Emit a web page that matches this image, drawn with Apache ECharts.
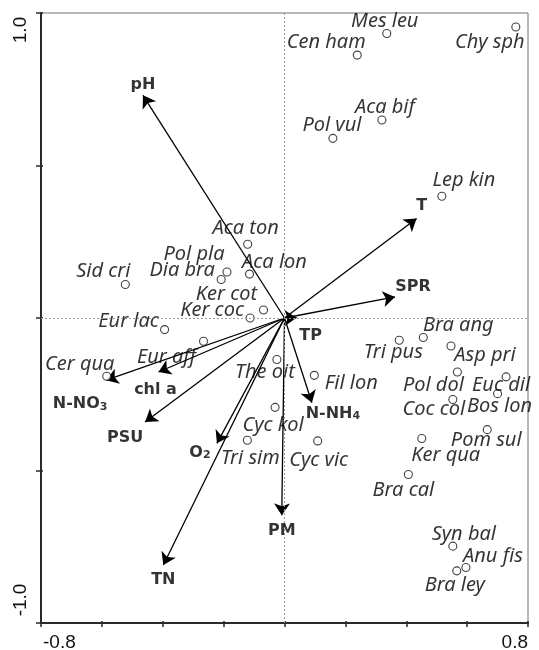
<!DOCTYPE html>
<html>
<head>
<meta charset="utf-8">
<script src="https://cdn.jsdelivr.net/npm/echarts@6/dist/echarts.min.js"></script>
<style>
  html, body { margin: 0; padding: 0; background: #ffffff; }
  #chart { width: 539px; height: 650px; }
</style>
</head>
<body>
<div id="chart"></div>
<script>
// Species scores (CCA axis 1 / axis 2)
const speciesNames = [
  'Mes leu', 'Cen ham', 'Chy sph', 'Aca bif', 'Pol vul', 'Lep kin',
  'Aca ton', 'Aca lon', 'Pol pla', 'Dia bra', 'Ker cot', 'Ker coc',
  'Eur lac', 'Sid cri', 'Eur aff', 'Cer qua', 'The oit', 'Fil lon',
  'Cyc kol', 'Tri sim', 'Cyc vic', 'Tri pus', 'Bra ang', 'Asp pri',
  'Pol dol', 'Euc dil', 'Bos lon', 'Coc col', 'Pom sul', 'Ker qua',
  'Bra cal', 'Syn bal', 'Anu fis', 'Bra ley'
];
const speciesX = [
  0.336, 0.239, 0.760, 0.320, 0.159, 0.517,
  -0.121, -0.115, -0.189, -0.208, -0.069, -0.113,
  -0.394, -0.523, -0.266, -0.584, -0.025, 0.098,
  -0.031, -0.122, 0.109, 0.377, 0.456, 0.547,
  0.568, 0.728, 0.700, 0.553, 0.666, 0.451,
  0.407, 0.553, 0.596, 0.566
];
const speciesY = [
  0.933, 0.862, 0.954, 0.649, 0.589, 0.399,
  0.242, 0.144, 0.151, 0.126, 0.026, 0.000,
  -0.038, 0.110, -0.076, -0.191, -0.136, -0.188,
  -0.293, -0.401, -0.403, -0.073, -0.064, -0.092,
  -0.177, -0.193, -0.248, -0.267, -0.366, -0.395,
  -0.513, -0.748, -0.818, -0.829
];

// Environmental variable vectors
const envNames = ['pH', 'T', 'SPR', 'TP', 'N-NH4', 'PM', 'TN', 'O2', 'PSU', 'chl a', 'N-NO3'];
const envX = [-0.465, 0.434, 0.363, 0.040, 0.090, -0.009, -0.398, -0.222, -0.458, -0.414, -0.586];
const envY = [0.730, 0.326, 0.069, 0.001, -0.278, -0.647, -0.810, -0.411, -0.341, -0.177, -0.204];

// Axis end labels
const xTickLabels = ['-0.8', '0.8'];
const yTickLabels = ['-1.0', '1.0'];

// Label placement, pixel offset of label centre from its point
const speciesLabelOffset = {
  'Mes leu': [-2, -12], 'Cen ham': [-31, -13], 'Chy sph': [-26, 15], 'Aca bif': [3, -13],
  'Pol vul': [-1, -13], 'Lep kin': [22, -16], 'Aca ton': [-2, -16], 'Aca lon': [25, -12],
  'Pol pla': [-33, -18], 'Dia bra': [-39, -9], 'Ker cot': [-37, -16], 'Ker coc': [-38, -8],
  'Eur lac': [-36, -8], 'Sid cri': [-22, -13], 'Eur aff': [-37, 16], 'Cer qua': [-27, -12],
  'The oit': [-12, 13], 'Fil lon': [37, 8], 'Cyc kol': [-2, 18], 'Tri sim': [3, 18],
  'Cyc vic': [1, 19], 'Tri pus': [-6, 12], 'Bra ang': [35, -12], 'Asp pri': [34, 9],
  'Pol dol': [-24, 13], 'Euc dil': [-5, 8], 'Bos lon': [2, 13], 'Coc col': [-19, 10],
  'Pom sul': [-1, 11], 'Ker qua': [24, 17], 'Bra cal': [-5, 16], 'Syn bal': [11, -12],
  'Anu fis': [27, -11], 'Bra ley': [-2, 14]
};
const envLabelOffset = {
  'pH': [0, -13], 'T': [5, -15], 'SPR': [18, -12], 'TP': [14, 16], 'N-NH4': [21, 9],
  'PM': [0, 14], 'TN': [0, 13], 'O2': [-17, 7], 'PSU': [-20, 14], 'chl a': [-3, 16],
  'N-NO3': [-26, 22]
};

// Chemical formulas get a rich-text subscript
function envRichText(name) {
  const m = name.match(/^(.*?)(\d)$/);
  if (m) return '{b|' + m[1] + '}{s|' + m[2] + '}';
  return '{b|' + name + '}';
}

const speciesData = speciesNames.map((n, i) => ({
  name: n,
  value: [speciesX[i], speciesY[i]],
  label: { offset: speciesLabelOffset[n] || [0, -12] }
}));

const arrowData = envNames.map((n, i) => ({
  name: n,
  coords: [[0, 0], [envX[i], envY[i]]]
}));

const envLabelData = envNames.map((n, i) => ({
  name: n,
  value: [envX[i], envY[i]],
  label: { offset: envLabelOffset[n] || [0, -12] }
}));

const chart = echarts.init(document.getElementById('chart'), null, { renderer: 'canvas' });

const axisColor = '#2a2a2a';
const option = {
  animation: false,
  backgroundColor: '#ffffff',
  grid: {
    left: 41, right: 11, top: 13, bottom: 27,
    show: true, borderColor: '#707070', borderWidth: 1, backgroundColor: 'transparent'
  },
  xAxis: [
    {
      type: 'value', min: -0.8, max: 0.8, interval: 0.2, position: 'bottom',
      axisLine: { show: true, onZero: false, lineStyle: { color: axisColor, width: 2 } },
      axisTick: { show: true, length: 4, lineStyle: { color: axisColor, width: 1.5 } },
      axisLabel: { show: false }, splitLine: { show: false }
    },
    {
      type: 'value', min: -0.8, max: 0.8, interval: 0.2, position: 'bottom',
      axisLine: { show: false, onZero: false },
      axisTick: { show: true, inside: true, length: 2, lineStyle: { color: axisColor, width: 1.5 } },
      axisLabel: { show: false }, splitLine: { show: false }
    }
  ],
  yAxis: [
    {
      type: 'value', min: -1, max: 1, interval: 0.5, position: 'left',
      axisLine: { show: true, onZero: false, lineStyle: { color: axisColor, width: 2 } },
      axisTick: { show: true, length: 5, lineStyle: { color: axisColor, width: 1.5 } },
      axisLabel: { show: false }, splitLine: { show: false }
    },
    {
      type: 'value', min: -1, max: 1, interval: 0.5, position: 'left',
      axisLine: { show: false, onZero: false },
      axisTick: { show: true, inside: true, length: 2, lineStyle: { color: axisColor, width: 1.5 } },
      axisLabel: { show: false }, splitLine: { show: false }
    }
  ],
  series: [
    {
      // zero reference lines
      type: 'scatter', data: [], silent: true,
      markLine: {
        silent: true, symbol: ['none', 'none'], animation: false,
        label: { show: false },
        lineStyle: { color: '#9a9a9a', type: [2, 2], width: 1 },
        data: [{ xAxis: 0 }, { yAxis: 0 }]
      }
    },
    {
      name: 'environment',
      type: 'lines',
      coordinateSystem: 'cartesian2d',
      symbol: ['none', 'arrow'],
      symbolSize: [0, 12],
      lineStyle: { color: '#000000', width: 1.3, opacity: 1, curveness: 0 },
      data: arrowData,
      z: 3
    },
    {
      name: 'species',
      type: 'scatter',
      symbol: 'circle',
      symbolSize: 8,
      itemStyle: { color: '#ffffff', borderColor: '#111111', borderWidth: 1.1 },
      label: {
        show: true, position: 'inside', formatter: '{b}',
        color: '#000000', fontFamily: 'Noto Sans', fontStyle: 'italic', fontSize: 20
      },
      data: speciesData,
      z: 4
    },
    {
      name: 'environment labels',
      type: 'scatter',
      symbolSize: 1,
      itemStyle: { color: 'rgba(0,0,0,0)' },
      label: {
        show: true, position: 'inside',
        formatter: p => envRichText(p.name),
        rich: {
          b: { fontFamily: 'DejaVu Sans', fontWeight: 'bold', fontSize: 16, color: '#000', verticalAlign: 'bottom', lineHeight: 20 },
          s: { fontFamily: 'DejaVu Sans', fontWeight: 'bold', fontSize: 11, color: '#000', verticalAlign: 'bottom', lineHeight: 6 }
        }
      },
      data: envLabelData,
      z: 5
    }
  ]
};
chart.setOption(option);

// Axis end labels placed from the axis scales
const tickFont = '19px "Liberation Sans", Arial, sans-serif';
const xMinPx = chart.convertToPixel({ xAxisIndex: 0 }, -0.8);
const xMaxPx = chart.convertToPixel({ xAxisIndex: 0 }, 0.8);
const yMinPx = chart.convertToPixel({ yAxisIndex: 0 }, -1);
const yMaxPx = chart.convertToPixel({ yAxisIndex: 0 }, 1);
chart.setOption({
  graphic: [
    { type: 'text', x: xMinPx + 2, y: yMinPx + 20, style: { text: xTickLabels[0], font: tickFont, fill: '#111', textAlign: 'left', textVerticalAlign: 'middle' } },
    { type: 'text', x: xMaxPx, y: yMinPx + 20, style: { text: xTickLabels[1], font: tickFont, fill: '#111', textAlign: 'right', textVerticalAlign: 'middle' } },
    { type: 'text', x: xMinPx - 20, y: yMaxPx + 17, rotation: Math.PI / 2, style: { text: yTickLabels[1], font: tickFont, fill: '#111', textAlign: 'center', textVerticalAlign: 'middle' } },
    { type: 'text', x: xMinPx - 20, y: yMinPx - 23, rotation: Math.PI / 2, style: { text: yTickLabels[0], font: tickFont, fill: '#111', textAlign: 'center', textVerticalAlign: 'middle' } }
  ]
});
</script>
</body>
</html>
